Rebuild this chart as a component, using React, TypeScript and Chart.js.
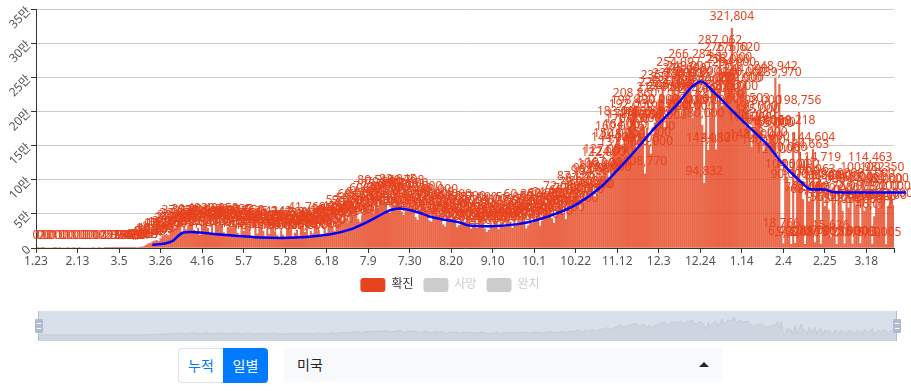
import React, { useEffect, useRef } from "react";
import { Chart, registerables } from "chart.js";

Chart.register(...registerables);

// Daily confirmed cases, one list per calendar month
const jan20 = [0, 1, 0, 2, 1, 0, 0, 0, 0];
const feb20 = [1, 1, 0, 1, 0, 0, 0, 1, 0, 0, 1, 0, 0, 1, 0, 0, 0, 0, 0, 0, 1, 0, 0, 12, 0, 0, 1, 2, 5];
const mar20 = [7, 23, 19, 33, 77, 53, 166, 116, 75, 188, 365, 439, 633, 759, 234, 1467, 1833, 2657, 4494, 6367, 7123, 9000, 10189, 11236, 9789, 13963, 17797, 18695, 19979, 18360, 21595];
const apr20 = [24998, 27103, 30208, 32425, 37272, 21398, 30561, 26613, 33323, 39201, 35527, 25861, 22917, 29306, 19051, 32680, 36165, 40491, 29057, 21844, 34123, 20985, 35973, 31900, 39958, 33903, 22543, 19000, 30385, 36327];
const may20 = [29515, 39037, 33078, 21501, 18335, 30813, 24252, 37550, 26906, 32621, 17329, 15117, 28048, 20782, 36143, 30508, 24487, 16937, 27841, 20289, 30285, 35143, 24197, 18236, 15608, 24790, 19064, 16000, 29000, 34700, 30000];
const jun20 = [16350, 22000, 26600, 17600, 28400, 33000, 23100, 41760, 15800, 24500, 20800, 31000, 34400, 26000, 18600, 16300, 29500, 22000, 35800, 38400, 32300, 24500, 36800, 34600, 43200, 40000, 52000, 43000, 36000, 50000];
const jul20 = [47000, 55000, 60000, 42000, 38000, 48000, 64000, 60500, 69000, 57500, 72000, 50000, 80514, 58000, 75000, 69500, 79000, 66000, 54000, 51000, 71000, 62000, 76000, 83045, 75000, 53000, 48000, 80708, 61000, 77000, 66000];
const aug20 = [70000, 45000, 41000, 54000, 61000, 72000, 58000, 54000, 40000, 38000, 59000, 64000, 48000, 68000, 51000, 34000, 31000, 47000, 55000, 42000, 60000, 46000, 30000, 33000, 41000, 52000, 38000, 58000, 42000, 28000, 31000];
const sep20 = [48000, 29000, 57000, 40000, 52000, 28000, 23000, 26000, 37000, 33000, 54000, 39000, 27000, 35000, 43000, 31000, 52000, 45000, 38000, 29000, 56000, 34000, 47000, 40000, 60350, 44000, 28000, 33000, 50000, 36000];
const oct20 = [54000, 42000, 58000, 32000, 40000, 49000, 62000, 52000, 64000, 43000, 36000, 47000, 55000, 60000, 72000, 50000, 42000, 66000, 56000, 70000, 62000, 87120, 78000, 55000, 70000, 84000, 68000, 80000, 96000, 99000, 76000];
const nov20 = [75000, 94000, 106000, 103000, 122000, 127000, 107000, 101000, 124000, 144000, 150000, 160000, 183000, 137000, 148000, 164000, 170000, 178000, 192000, 198430, 208860, 143000, 172000, 178000, 181000, 108770, 176000, 151000, 138000, 161000];
const dec20 = [183000, 200000, 217000, 225420, 235180, 177000, 190000, 217000, 220000, 232000, 238000, 224000, 254097, 193000, 198000, 246000, 238000, 249000, 266284, 190000, 200000, 228000, 241000, 214000, 180000, 94832, 226000, 143080, 199000, 232000, 239000];
const jan21 = [144120, 216000, 287062, 208000, 220000, 276510, 258000, 262000, 321804, 254000, 219000, 276620, 231000, 232000, 240000, 244000, 201503, 174000, 148000, 176000, 190000, 185000, 198000, 169000, 140000, 152000, 146000, 167000, 165000, 166000, 248942];
const feb21 = [126000, 239970, 18766, 6400, 130000, 104000, 90000, 5320, 169218, 7200, 105000, 198756, 94000, 71000, 5480, 134663, 68000, 72000, 144604, 8000, 96963, 114719, 5780, 88000, 61000, 83000, 56000, 15626];
const mar21 = [88000, 66000, 5280, 92000, 70000, 54000, 6100, 87000, 59000, 72000, 5900, 86000, 61000, 78000, 6300, 100982, 54000, 60000, 85000, 114463, 5600, 46072, 91000, 58000, 73000, 100350, 82000, 5105, 59000, 84000, 72000];
const apr21 = [62000];

const confirmed = [...jan20, ...feb20, ...mar20, ...apr20, ...may20, ...jun20, ...jul20, ...aug20, ...sep20, ...oct20, ...nov20, ...dec20, ...jan21, ...feb21, ...mar21, ...apr21];

// month, first day, last day of each stretch of the date axis
const calendar = [[1, 23, 31], [2, 1, 29], [3, 1, 31], [4, 1, 30], [5, 1, 31], [6, 1, 30], [7, 1, 31], [8, 1, 31], [9, 1, 30], [10, 1, 31], [11, 1, 30], [12, 1, 31], [1, 1, 31], [2, 1, 28], [3, 1, 31], [4, 1, 1]];
const dates: string[] = [];
calendar.forEach(([m, first, last]) => {
  for (let d = first; d <= last; d++) dates.push(`${m}.${d}`);
});

// Day positions of the axis ticks (every 21 days, plus the axis end)
const tickDays = [0, 21, 42, 63, 84, 105, 126, 147, 168, 189, 210, 231, 252, 273, 294, 315, 336, 357, 378, 399, 420, 434];

// Blue average line: day position and value
const avgDays = [58.8, 65.3, 68.9, 71.9, 74.5, 78, 83, 93, 103, 113.5, 123.6, 133.7, 149, 159, 167.7, 174, 179, 184, 191, 201, 214.8, 218.3, 230, 243.7, 251.8, 265.4, 274, 285.7, 294, 302.4, 311, 317.6, 324.7, 331.3, 336.4, 343, 353, 361.7, 370.3, 377, 387, 392, 398.7, 403.7, 440];
const avgValues = [4400, 6600, 10000, 17500, 22600, 23300, 22600, 19700, 17500, 15300, 14600, 15600, 20000, 27300, 38400, 48000, 55400, 57900, 54000, 44800, 36900, 33500, 32000, 35000, 39800, 53000, 65000, 89400, 113800, 140400, 169600, 189600, 211500, 234800, 244000, 228000, 198800, 174600, 150200, 125900, 96700, 86000, 85600, 81700, 81200];

const legendNames = ["확진", "사망", "완치"];
const legendColors = ["#e6431e", "#cccccc", "#cccccc"];
const legendText = ["#333333", "#cccccc", "#cccccc"];

const FONT = '"Noto Sans", "Noto Sans CJK KR", sans-serif';
const LABEL_RED = "#e6431e";

const barLabels = {
  id: "barLabels",
  afterDatasetDraw(chart: any, args: any) {
    if (args.index !== 0) return;
    const { ctx } = chart;
    const meta = chart.getDatasetMeta(0);
    ctx.save();
    ctx.font = `12px ${FONT}`;
    ctx.fillStyle = LABEL_RED;
    ctx.textAlign = "center";
    ctx.textBaseline = "middle";
    meta.data.forEach((bar: any, i: number) => {
      ctx.fillText(confirmed[i].toLocaleString("en-US"), bar.x, bar.y - 12);
    });
    ctx.restore();
  },
};

export default function App() {
  const mainRef = useRef<HTMLCanvasElement>(null);
  const miniRef = useRef<HTMLCanvasElement>(null);

  useEffect(() => {
    const main = new Chart(mainRef.current!, {
      type: "bar",
      data: {
        datasets: [
          {
            label: "확진",
            data: confirmed.map((y, x) => ({ x, y })),
            backgroundColor: "rgba(230,67,30,0.8)",
            barThickness: 1.5,
            order: 2,
          } as any,
          {
            type: "line",
            label: "평균",
            data: avgDays.map((x, i) => ({ x, y: avgValues[i] })),
            borderColor: "#0000ff",
            borderWidth: 2.5,
            pointRadius: 0,
            cubicInterpolationMode: "monotone",
            clip: false,
            order: 1,
          } as any,
        ],
      },
      options: {
        responsive: false,
        animation: false,
        layout: { padding: { left: 6, right: 17, top: 8, bottom: 0 } },
        scales: {
          x: {
            type: "linear",
            min: 0,
            max: 434,
            offset: false,
            afterFit: (s: any) => { s.height = 20; },
            afterBuildTicks: (s: any) => { s.ticks = tickDays.map((value) => ({ value })); },
            border: { color: "#333333", width: 1 },
            grid: { drawOnChartArea: false, offset: false, tickColor: "#333333", tickLength: 5 },
            ticks: {
              autoSkip: false,
              maxRotation: 0,
              padding: 1,
              color: "#555555",
              font: { family: FONT, size: 12 },
              callback: (v: any) => (v % 21 === 0 ? dates[v] : ""),
            },
          },
          y: {
            min: 0,
            max: 350000,
            afterFit: (s: any) => { s.width = 30; },
            border: { color: "#333333", width: 1 },
            grid: { color: "#cccccc", tickColor: "#333333", tickLength: 5 },
            ticks: {
              stepSize: 50000,
              minRotation: 45,
              maxRotation: 45,
              padding: 2,
              color: "#555555",
              font: { family: FONT, size: 12 },
              callback: (v: any) => (v === 0 ? "0" : `${v / 10000}만`),
            },
          },
        },
        plugins: {
          tooltip: { enabled: false },
          legend: {
            position: "bottom",
            onClick: () => {},
            labels: {
              boxWidth: 25,
              boxHeight: 14,
              padding: 10,
              useBorderRadius: true,
              borderRadius: 3,
              font: { family: FONT, size: 12 },
              generateLabels: () =>
                legendNames.map((text, i) => ({
                  text,
                  fillStyle: legendColors[i],
                  strokeStyle: legendColors[i],
                  fontColor: legendText[i],
                  lineWidth: 0,
                  hidden: false,
                  borderRadius: 3,
                })),
            },
          },
        },
      } as any,
      plugins: [barLabels],
    });

    const mini = new Chart(miniRef.current!, {
      type: "line",
      data: {
        labels: dates,
        datasets: [
          {
            data: confirmed,
            borderColor: "#c4cad5",
            borderWidth: 1,
            backgroundColor: "#cfd5e0",
            fill: "start",
            pointRadius: 0,
            tension: 0,
          },
        ],
      },
      options: {
        responsive: false,
        animation: false,
        layout: { padding: 0 },
        plugins: { legend: { display: false }, tooltip: { enabled: false } },
        scales: {
          x: { display: false },
          y: { display: false, min: -107000, max: 429000 },
        },
      },
    });

    return () => {
      main.destroy();
      mini.destroy();
    };
  }, []);

  const handle = (left: number): React.CSSProperties => ({
    position: "absolute", left, top: 319, width: 8, height: 14, background: "#aebbd0", borderRadius: 1,
  });
  const stripe = (left: number, top: number): React.CSSProperties => ({
    position: "absolute", left, top, width: 4, height: 1, background: "#ffffff",
  });

  return (
    <div style={{ position: "absolute", left: 0, top: 0, width: 911, height: 391, overflow: "hidden", background: "#fff", fontFamily: FONT }}>
      <canvas ref={mainRef} width={911} height={302} style={{ position: "absolute", left: 0, top: 0 }} />

      <div style={{ position: "absolute", left: 38, top: 311, width: 858, height: 30, background: "#dae0ea" }}>
        <canvas ref={miniRef} width={858} height={30} style={{ display: "block" }} />
      </div>
      <div style={{ position: "absolute", left: 38, top: 311, width: 1, height: 30, background: "#aebbd0" }} />
      <div style={{ position: "absolute", left: 896, top: 311, width: 1, height: 30, background: "#aebbd0" }} />
      <div style={handle(35)} />
      <div style={stripe(37, 323)} />
      <div style={stripe(37, 328)} />
      <div style={handle(893)} />
      <div style={stripe(895, 323)} />
      <div style={stripe(895, 328)} />

      <div style={{ position: "absolute", left: 178, top: 348, width: 45, height: 35, boxSizing: "border-box", border: "1px solid #dee2e6", borderRight: "none", borderRadius: "4px 0 0 4px", color: "#007bff", fontSize: 14, lineHeight: "33px", textAlign: "center" }}>누적</div>
      <div style={{ position: "absolute", left: 223, top: 348, width: 45, height: 35, background: "#007bff", borderRadius: "0 4px 4px 0", color: "#ffffff", fontSize: 14, lineHeight: "35px", textAlign: "center" }}>일별</div>
      <div style={{ position: "absolute", left: 284, top: 348, width: 438, height: 34, background: "#f8f9fa", borderRadius: 4, color: "#212529", fontSize: 14, lineHeight: "34px", paddingLeft: 13, boxSizing: "border-box" }}>미국</div>
      <div style={{ position: "absolute", left: 699, top: 362, width: 0, height: 0, borderLeft: "5px solid transparent", borderRight: "5px solid transparent", borderBottom: "5px solid #212529" }} />
    </div>
  );
}
